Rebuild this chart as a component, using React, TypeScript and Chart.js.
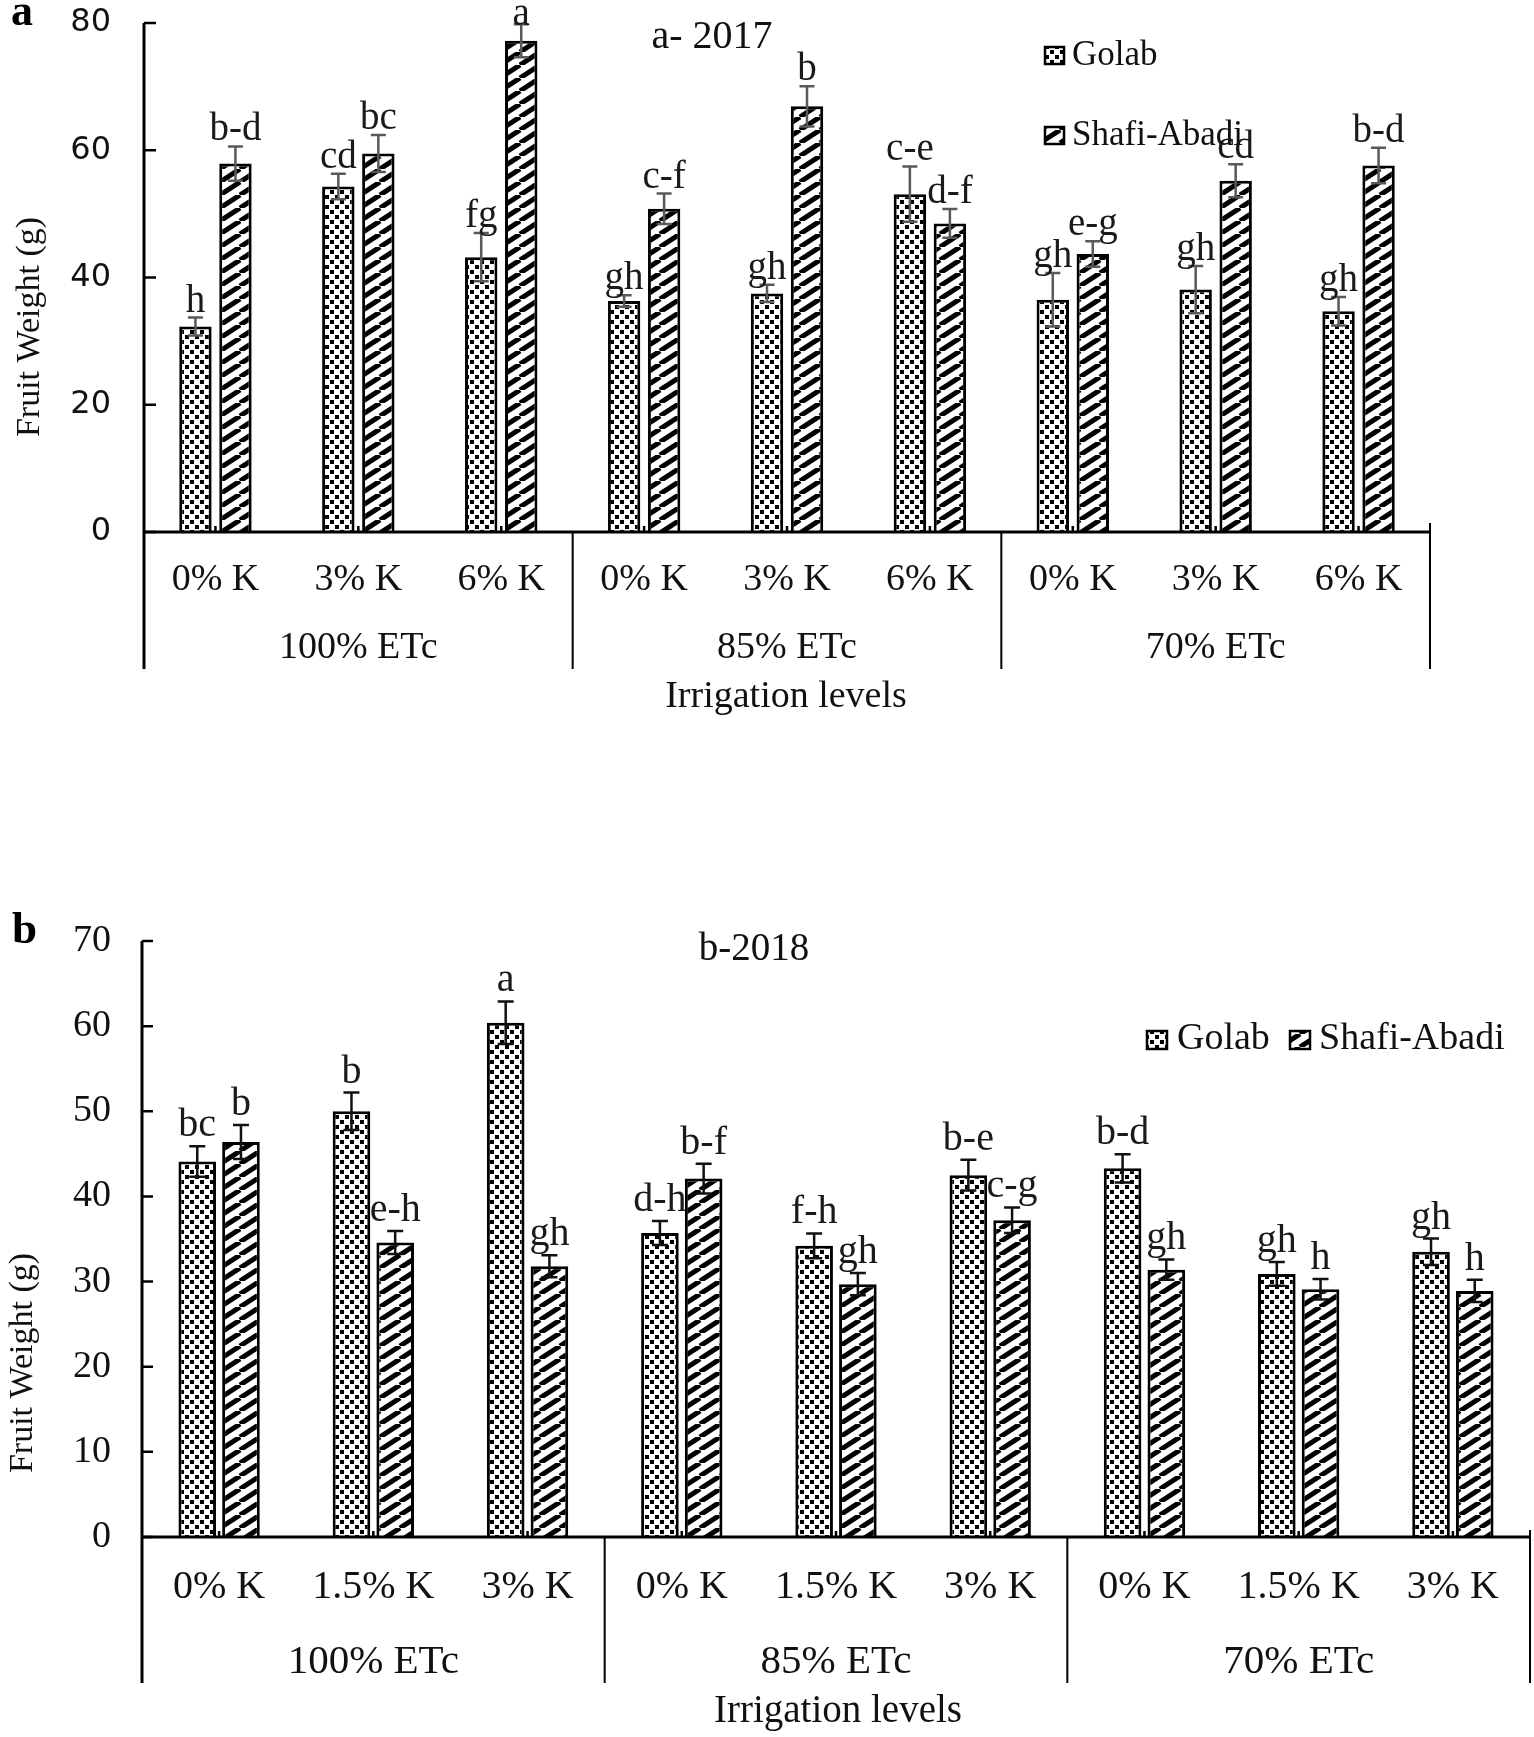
import React, { useEffect, useRef } from 'react';
import { Chart, registerables } from 'chart.js';

Chart.register(...registerables);

// ---------------- data ----------------
const irrigationLevels = ['100% ETc', '85% ETc', '70% ETc'];
const kLevels2017 = ['0% K', '3% K', '6% K'];
const kLevels2018 = ['0% K', '1.5% K', '3% K'];
const seriesNames = ['Golab', 'Shafi-Abadi'];

const yTicks2017 = [0, 20, 40, 60, 80];
const yTicks2018 = [0, 10, 20, 30, 40, 50, 60, 70];

const golab2017 = [32.3, 54.3, 43.2, 36.3, 37.5, 53.1, 36.5, 38.1, 34.7];
const golab2017Err = [1.4, 2.0, 3.8, 0.9, 1.35, 4.35, 4.2, 3.7, 2.25];
const shafi2017 = [57.9, 59.5, 77.2, 50.8, 66.9, 48.5, 43.7, 55.2, 57.6];
const shafi2017Err = [2.7, 2.9, 2.6, 2.4, 3.15, 2.25, 2.0, 2.6, 2.8];
const golab2017Letters = ['h', 'cd', 'fg', 'gh', 'gh', 'c-e', 'gh', 'gh', 'gh'];
const shafi2017Letters = ['b-d', 'bc', 'a', 'c-f', 'b', 'd-f', 'e-g', 'cd', 'b-d'];

const golab2018 = [44.1, 50.0, 60.4, 35.7, 34.2, 42.5, 43.3, 30.9, 33.5];
const golab2018Err = [1.8, 2.2, 2.5, 1.4, 1.45, 1.8, 1.65, 1.4, 1.55];
const shafi2018 = [46.4, 34.6, 31.8, 42.1, 29.7, 37.2, 31.4, 29.1, 28.9];
const shafi2018Err = [2.0, 1.35, 1.3, 1.75, 1.3, 1.5, 1.2, 1.2, 1.3];
const golab2018Letters = ['bc', 'b', 'a', 'd-h', 'f-h', 'b-e', 'b-d', 'gh', 'gh'];
const shafi2018Letters = ['b', 'e-h', 'gh', 'b-f', 'gh', 'c-g', 'gh', 'h', 'h'];

// ---------------- patterns ----------------
function dotPattern(): CanvasPattern | string {
  const s = 10;
  const c = document.createElement('canvas');
  c.width = s;
  c.height = s;
  const g = c.getContext('2d');
  if (!g) return '#888';
  g.fillStyle = '#fff';
  g.fillRect(0, 0, s, s);
  g.fillStyle = '#000';
  g.fillRect(0, 0, 4, 4);
  g.fillRect(5, 5, 4, 4);
  return g.createPattern(c, 'repeat') || '#888';
}

function hatchPattern(): CanvasPattern | string {
  const w = 20;
  const h = 13;
  const c = document.createElement('canvas');
  c.width = w;
  c.height = h;
  const g = c.getContext('2d');
  if (!g) return '#444';
  g.fillStyle = '#fff';
  g.fillRect(0, 0, w, h);
  g.strokeStyle = '#000';
  g.lineWidth = 5;
  for (let k = -1; k <= 1; k++) {
    g.beginPath();
    g.moveTo(k * w, h);
    g.lineTo(k * w + w, 0);
    g.stroke();
  }
  return g.createPattern(c, 'repeat') || '#444';
}

const SERIF = '"Liberation Serif", "Times New Roman", serif';

interface PanelCfg {
  width: number;
  height: number;
  area: { left: number; top: number; right: number; bottom: number };
  kLevels: string[];
  yTicks: number[];
  tickFont: { family: string; size: number };
  tickPadding: number;
  values: number[][];
  errors: number[][];
  letters: string[][];
  catPct: number;
  barPct: number;
  sepBottom: number;
  rightTop: number;
  catBaseline: number;
  catFont: string;
  groupBaseline: number;
  groupFont: string;
  xTitleX: number;
  xTitleBaseline: number;
  xTitleFont: string;
  yTitleX: number;
  yTitleY: number;
  yTitleFont: string;
  title: string;
  titleX: number;
  titleBaseline: number;
  titleFont: string;
  legendFont: string;
  legend: { boxX: number; boxY: number; boxW: number; boxH: number; textX: number; baseline: number }[];
  panel: string;
  panelX: number;
  panelBaseline: number;
  panelFont: string;
  errColor: string;
  errWidth: number;
  cap: number;
  letterFont: string;
  letterGap: number;
  letterMinBaseline: number;
  tickLen: number;
}

function makeOverlay(cfg: PanelCfg, fills: (CanvasPattern | string)[]) {
  return {
    id: 'overlay',
    afterDatasetsDraw(chart: any) {
      const ctx: CanvasRenderingContext2D = chart.ctx;
      const xs = chart.scales.x;
      const ys = chart.scales.y;
      const { left, right, bottom } = chart.chartArea;
      const n = cfg.values[0].length;
      ctx.save();

      // error bars + letters
      cfg.values.forEach((vals, di) => {
        const meta = chart.getDatasetMeta(di);
        meta.data.forEach((bar: any, j: number) => {
          const v = vals[j];
          const e = cfg.errors[di][j];
          const yt = ys.getPixelForValue(v + e);
          const yb = ys.getPixelForValue(v - e);
          ctx.strokeStyle = cfg.errColor;
          ctx.lineWidth = cfg.errWidth;
          ctx.beginPath();
          ctx.moveTo(bar.x, yt);
          ctx.lineTo(bar.x, yb);
          ctx.moveTo(bar.x - cfg.cap, yt);
          ctx.lineTo(bar.x + cfg.cap, yt);
          ctx.moveTo(bar.x - cfg.cap, yb);
          ctx.lineTo(bar.x + cfg.cap, yb);
          ctx.stroke();
          ctx.fillStyle = '#1a1a1a';
          ctx.font = cfg.letterFont;
          ctx.textAlign = 'center';
          ctx.textBaseline = 'alphabetic';
          const by = Math.max(yt - cfg.letterGap, cfg.letterMinBaseline);
          ctx.fillText(cfg.letters[di][j], bar.x, by);
        });
      });

      // axes
      ctx.strokeStyle = '#000';
      ctx.lineWidth = 3;
      ctx.beginPath();
      ctx.moveTo(left, ys.getPixelForValue(cfg.yTicks[cfg.yTicks.length - 1]));
      ctx.lineTo(left, cfg.sepBottom);
      ctx.moveTo(left, bottom);
      ctx.lineTo(right, bottom);
      ctx.stroke();

      ctx.lineWidth = 2.5;
      ctx.beginPath();
      cfg.yTicks.forEach((t) => {
        const py = ys.getPixelForValue(t);
        ctx.moveTo(left, py);
        ctx.lineTo(left + cfg.tickLen, py);
      });
      // small category ticks
      for (let i = 0; i < n; i++) {
        const px = xs.getPixelForValue(i);
        ctx.moveTo(px, bottom);
        ctx.lineTo(px, bottom - 6);
      }
      ctx.stroke();

      // group separators
      ctx.lineWidth = 2;
      ctx.beginPath();
      const per = cfg.kLevels.length;
      for (let g = 1; g < irrigationLevels.length; g++) {
        const px = (xs.getPixelForValue(g * per - 1) + xs.getPixelForValue(g * per)) / 2;
        ctx.moveTo(px, bottom);
        ctx.lineTo(px, cfg.sepBottom);
      }
      ctx.moveTo(right, cfg.rightTop);
      ctx.lineTo(right, cfg.sepBottom);
      ctx.stroke();

      // category labels
      ctx.fillStyle = '#111';
      ctx.textAlign = 'center';
      ctx.textBaseline = 'alphabetic';
      ctx.font = cfg.catFont;
      for (let i = 0; i < n; i++) {
        ctx.fillText(cfg.kLevels[i % per], xs.getPixelForValue(i), cfg.catBaseline);
      }
      ctx.font = cfg.groupFont;
      irrigationLevels.forEach((lab, g) => {
        ctx.fillText(lab, xs.getPixelForValue(g * per + Math.floor(per / 2)), cfg.groupBaseline);
      });
      ctx.font = cfg.xTitleFont;
      ctx.fillText('Irrigation levels', cfg.xTitleX, cfg.xTitleBaseline);

      // y title
      ctx.save();
      ctx.translate(cfg.yTitleX, cfg.yTitleY);
      ctx.rotate(-Math.PI / 2);
      ctx.font = cfg.yTitleFont;
      ctx.textBaseline = 'middle';
      ctx.fillText('Fruit Weight (g)', 0, 0);
      ctx.restore();

      // title
      ctx.font = cfg.titleFont;
      ctx.textAlign = 'center';
      ctx.textBaseline = 'alphabetic';
      ctx.fillText(cfg.title, cfg.titleX, cfg.titleBaseline);

      // panel letter
      ctx.font = cfg.panelFont;
      ctx.textAlign = 'left';
      ctx.fillStyle = '#000';
      ctx.fillText(cfg.panel, cfg.panelX, cfg.panelBaseline);

      // legend
      ctx.font = cfg.legendFont;
      cfg.legend.forEach((it, k) => {
        ctx.fillStyle = fills[k] as any;
        ctx.fillRect(it.boxX, it.boxY, it.boxW, it.boxH);
        ctx.strokeStyle = '#000';
        ctx.lineWidth = 2.5;
        ctx.strokeRect(it.boxX, it.boxY, it.boxW, it.boxH);
        ctx.fillStyle = '#111';
        ctx.textAlign = 'left';
        ctx.fillText(seriesNames[k], it.textX, it.baseline);
      });

      ctx.restore();
    },
  };
}

function buildChart(canvas: HTMLCanvasElement, cfg: PanelCfg) {
  const fills = [dotPattern(), hatchPattern()];
  const labels = irrigationLevels.flatMap(() => cfg.kLevels);
  const yTicks = cfg.yTicks;
  return new Chart(canvas, {
    type: 'bar',
    data: {
      labels,
      datasets: cfg.values.map((vals, i) => ({
        label: seriesNames[i],
        data: vals,
        backgroundColor: fills[i] as any,
        borderColor: '#000',
        borderWidth: 3,
        borderSkipped: 'start' as const,
        categoryPercentage: cfg.catPct,
        barPercentage: cfg.barPct,
      })),
    },
    options: {
      responsive: false,
      animation: false,
      devicePixelRatio: 1,
      layout: {
        padding: { left: 0, top: cfg.area.top, right: cfg.width - cfg.area.right, bottom: 0 },
      },
      plugins: {
        legend: { display: false },
        tooltip: { enabled: false },
        title: { display: false },
      },
      scales: {
        x: {
          type: 'category',
          grid: { display: false, drawTicks: false },
          border: { display: false },
          ticks: { display: false },
          afterFit: (s: any) => {
            s.height = cfg.height - cfg.area.bottom;
            s.paddingLeft = 0;
            s.paddingRight = 0;
          },
        },
        y: {
          type: 'linear',
          min: yTicks[0],
          max: yTicks[yTicks.length - 1],
          grid: { display: false, drawTicks: false },
          border: { display: false },
          ticks: {
            font: cfg.tickFont,
            color: '#111',
            padding: cfg.tickPadding,
          },
          afterBuildTicks: (s: any) => {
            s.ticks = yTicks.map((v) => ({ value: v }));
          },
          afterFit: (s: any) => {
            s.width = cfg.area.left;
            s.paddingTop = 0;
            s.paddingBottom = 0;
          },
        },
      },
    } as any,
    plugins: [makeOverlay(cfg, fills)],
  });
}

const cfgA: PanelCfg = {
  width: 1534,
  height: 730,
  area: { left: 144, top: 23, right: 1430, bottom: 532 },
  kLevels: kLevels2017,
  yTicks: yTicks2017,
  tickFont: { family: '"DejaVu Sans", sans-serif', size: 32 },
  tickPadding: 33,
  values: [golab2017, shafi2017],
  errors: [golab2017Err, shafi2017Err],
  letters: [golab2017Letters, shafi2017Letters],
  catPct: 0.56,
  barPct: 0.81,
  sepBottom: 669,
  rightTop: 523,
  catBaseline: 590,
  catFont: '38px ' + SERIF,
  groupBaseline: 658,
  groupFont: '38px ' + SERIF,
  xTitleX: 786,
  xTitleBaseline: 707,
  xTitleFont: '38px ' + SERIF,
  yTitleX: 30,
  yTitleY: 327,
  yTitleFont: '34px ' + SERIF,
  title: 'a- 2017',
  titleX: 712,
  titleBaseline: 48,
  titleFont: '40px ' + SERIF,
  legendFont: '35px ' + SERIF,
  legend: [
    { boxX: 1045, boxY: 47, boxW: 19, boxH: 17, textX: 1072, baseline: 65 },
    { boxX: 1045, boxY: 127, boxW: 19, boxH: 17, textX: 1072, baseline: 145 },
  ],
  panel: 'a',
  panelX: 11,
  panelBaseline: 25,
  panelFont: 'bold 44px ' + SERIF,
  errColor: '#595959',
  errWidth: 2.5,
  cap: 7.5,
  letterFont: '39px ' + SERIF,
  letterGap: 6,
  letterMinBaseline: 25,
  tickLen: 12,
};

const cfgB: PanelCfg = {
  width: 1534,
  height: 937,
  area: { left: 142, top: 141, right: 1530, bottom: 737 },
  kLevels: kLevels2018,
  yTicks: yTicks2018,
  tickFont: { family: SERIF, size: 38 },
  tickPadding: 31,
  values: [golab2018, shafi2018],
  errors: [golab2018Err, shafi2018Err],
  letters: [golab2018Letters, shafi2018Letters],
  catPct: 0.567,
  barPct: 0.86,
  sepBottom: 883,
  rightTop: 730,
  catBaseline: 798,
  catFont: '40px ' + SERIF,
  groupBaseline: 873,
  groupFont: '41px ' + SERIF,
  xTitleX: 838,
  xTitleBaseline: 922,
  xTitleFont: '39px ' + SERIF,
  yTitleX: 23,
  yTitleY: 563,
  yTitleFont: '34px ' + SERIF,
  title: 'b-2018',
  titleX: 754,
  titleBaseline: 160,
  titleFont: '39px ' + SERIF,
  legendFont: '38px ' + SERIF,
  legend: [
    { boxX: 1147, boxY: 231, boxW: 20, boxH: 18, textX: 1177, baseline: 249 },
    { boxX: 1290, boxY: 231, boxW: 20, boxH: 18, textX: 1319, baseline: 249 },
  ],
  panel: 'b',
  panelX: 12,
  panelBaseline: 143,
  panelFont: 'bold 45px ' + SERIF,
  errColor: '#111',
  errWidth: 2.5,
  cap: 8,
  letterFont: '40px ' + SERIF,
  letterGap: 10,
  letterMinBaseline: 0,
  tickLen: 11,
};

function Panel({ cfg, top }: { cfg: PanelCfg; top: number }) {
  const ref = useRef<HTMLCanvasElement | null>(null);
  useEffect(() => {
    if (!ref.current) return;
    const chart = buildChart(ref.current, cfg);
    return () => chart.destroy();
  }, [cfg]);
  return (
    <canvas
      ref={ref}
      width={cfg.width}
      height={cfg.height}
      style={{ position: 'absolute', left: 0, top, width: cfg.width, height: cfg.height, display: 'block' }}
    />
  );
}

export default function App() {
  return (
    <div style={{ position: 'absolute', left: 0, top: 0, width: 1534, height: 1737, background: '#fff', overflow: 'hidden' }}>
      <Panel cfg={cfgA} top={0} />
      <Panel cfg={cfgB} top={800} />
    </div>
  );
}
